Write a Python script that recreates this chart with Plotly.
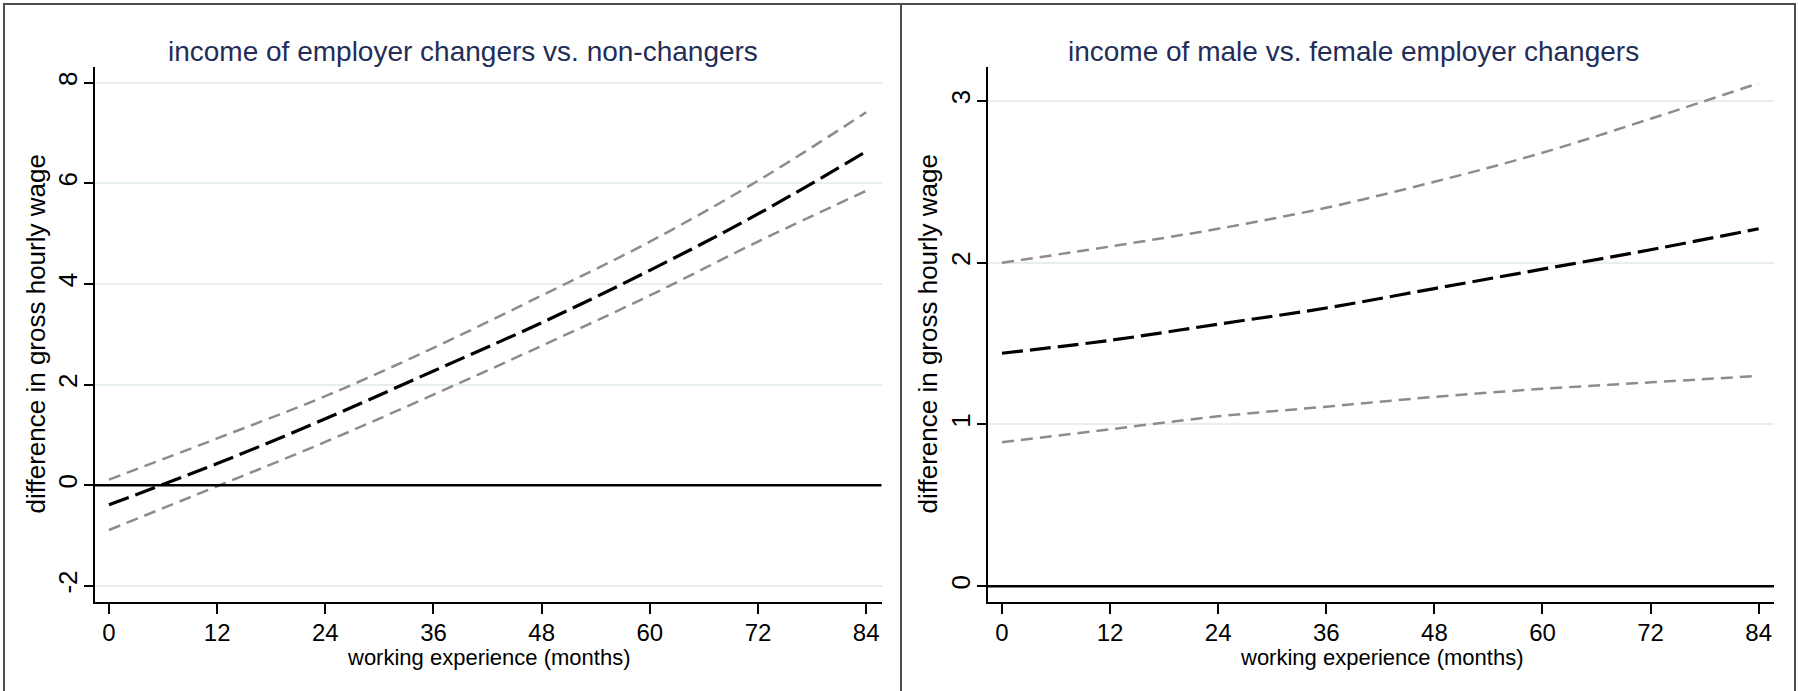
import plotly.graph_objects as go

# ---------------- data ----------------
months = [0, 12, 24, 36, 48, 60, 72, 84]

left_title = "income of employer changers vs. non-changers"
left_est = [-0.39, 0.43, 1.32, 2.27, 3.23, 4.27, 5.39, 6.63]
left_hi = [0.11, 0.93, 1.77, 2.73, 3.77, 4.84, 6.05, 7.41]
left_lo = [-0.89, -0.02, 0.86, 1.80, 2.77, 3.77, 4.84, 5.85]
left_yticks = [-2, 0, 2, 4, 6, 8]
left_yticklabels = ["-2", "0", "2", "4", "6", "8"]

right_title = "income of male vs. female employer changers"
right_est = [1.44, 1.52, 1.62, 1.72, 1.84, 1.96, 2.08, 2.21]
right_hi = [2.00, 2.10, 2.21, 2.34, 2.50, 2.68, 2.89, 3.11]
right_lo = [0.89, 0.97, 1.05, 1.11, 1.17, 1.22, 1.26, 1.30]
right_yticks = [0, 1, 2, 3]
right_yticklabels = ["0", "1", "2", "3"]

x_title = "working experience (months)"
y_title = "difference in gross hourly wage"

# ---------------- figure ----------------
W, H = 1798, 691
FONT = "Liberation Sans, Arial, sans-serif"
CI_COLOR = "#8c8c8c"
GRID = "#e6eef0"

fig = go.Figure()


def add_panel(xa, ya, est, hi, lo):
    for ys in (hi, lo):
        fig.add_trace(go.Scatter(
            x=months, y=ys, xaxis=xa, yaxis=ya, mode="lines",
            line=dict(color=CI_COLOR, width=2.5, dash="12px,7px", shape="spline"),
            showlegend=False, hoverinfo="skip"))
    fig.add_trace(go.Scatter(
        x=months, y=est, xaxis=xa, yaxis=ya, mode="lines",
        line=dict(color="black", width=3.2, dash="21px,7px", shape="spline"),
        showlegend=False, hoverinfo="skip"))


add_panel("x", "y", left_est, left_hi, left_lo)
add_panel("x2", "y2", right_est, right_hi, right_lo)

ydom = [1 - 602 / H, 1 - 67 / H]
xdom1 = [95 / W, 881.5 / W]
xdom2 = [988 / W, 1774 / W]

common_x = dict(
    range=[-1.55, 85.7], tickvals=months, ticks="outside", ticklen=10,
    tickwidth=1.5, tickcolor="black", showline=True, linecolor="black",
    linewidth=1.5, showgrid=False, zeroline=False,
    tickfont=dict(family=FONT, size=24, color="black"),
    ticklabelstandoff=-2,
)
common_y = dict(
    ticks="outside", ticklen=9, tickwidth=1.5, tickcolor="black",
    showline=True, linecolor="black", linewidth=1.5, tickangle=-90,
    showgrid=True, gridcolor=GRID, gridwidth=2, zeroline=False,
    tickfont=dict(family=FONT, size=26, color="black"),
    ticklabelstandoff=-3,
)

fig.update_layout(
    width=W, height=H,
    margin=dict(l=0, r=0, t=0, b=0),
    paper_bgcolor="white", plot_bgcolor="white",
    xaxis=dict(domain=xdom1, anchor="y", **common_x),
    yaxis=dict(domain=ydom, anchor="x", range=[-2.32, 8.31],
               tickvals=left_yticks, ticktext=left_yticklabels, **common_y),
    xaxis2=dict(domain=xdom2, anchor="y2", **common_x),
    yaxis2=dict(domain=ydom, anchor="x2", range=[-0.098, 3.21],
                tickvals=right_yticks, ticktext=right_yticklabels, **common_y),
)

# zero reference lines
for xr, yr in (("x domain", "y"), ("x2 domain", "y2")):
    fig.add_shape(type="line", xref=xr, yref=yr, x0=0, x1=1, y0=0, y1=0,
                  line=dict(color="black", width=2.5), layer="above")

# panel borders
for x0, x1 in ((4 / W, 901 / W), (901 / W, 1795 / W)):
    fig.add_shape(type="rect", xref="paper", yref="paper",
                  x0=x0, x1=x1, y0=-0.2, y1=1 - 4 / H,
                  line=dict(color="#4d4d4d", width=2))

# panel titles
for xc, txt in ((463 / W, left_title), (1353 / W, right_title)):
    fig.add_annotation(xref="paper", yref="paper", x=xc, y=1 - 51 / H,
                       text=txt, showarrow=False, xanchor="center",
                       yanchor="middle",
                       font=dict(family=FONT, size=28, color="#1f2d57"))

# axis titles
for dom in (xdom1, xdom2):
    fig.add_annotation(xref="paper", yref="paper", x=(dom[0] + dom[1]) / 2,
                       y=1 - 657 / H, text=x_title, showarrow=False,
                       xanchor="center", yanchor="middle",
                       font=dict(family=FONT, size=22, color="black"))
for xc in (36 / W, 928 / W):
    fig.add_annotation(xref="paper", yref="paper", x=xc,
                       y=(ydom[0] + ydom[1]) / 2, text=y_title,
                       textangle=-90, showarrow=False,
                       xanchor="center", yanchor="middle",
                       font=dict(family=FONT, size=26, color="black"))

fig.write_html("out.html",
               config={"displayModeBar": False},
               post_script="document.body.style.margin='0px';"
                           "document.body.style.overflow='hidden';")
